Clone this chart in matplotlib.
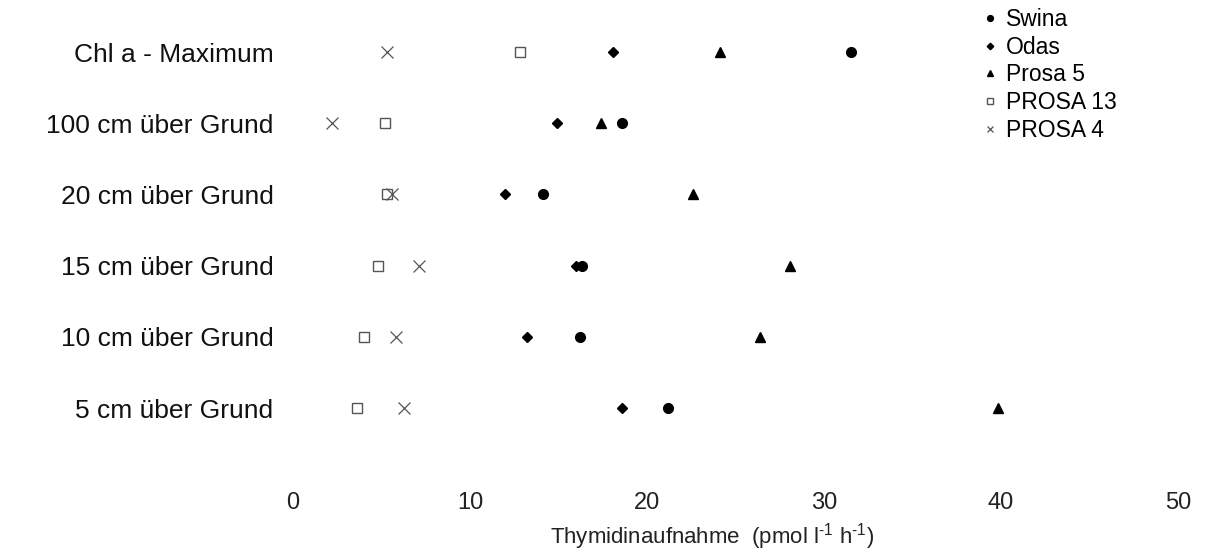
import matplotlib
matplotlib.use("Agg")
import matplotlib.pyplot as plt

plt.rcParams['font.family'] = ['Liberation Sans', 'DejaVu Sans']
plt.rcParams['mathtext.fontset'] = 'custom'
plt.rcParams['mathtext.rm'] = 'Liberation Sans'
plt.rcParams['mathtext.it'] = 'Liberation Sans:italic'

# depth levels, bottom to top
levels = ["5 cm über Grund", "10 cm über Grund", "15 cm über Grund",
          "20 cm über Grund", "100 cm über Grund", "Chl a - Maximum"]

# thymidine uptake per station (same order as levels)
swina = [21.2, 16.2, 16.3, 14.1, 18.6, 31.5]
odas = [18.6, 13.2, 16.0, 12.0, 14.9, 18.1]
prosa5 = [39.8, 26.4, 28.1, 22.6, 17.4, 24.1]
prosa13 = [3.6, 4.0, 4.8, 5.3, 5.2, 12.8]
prosa4 = [6.3, 5.8, 7.1, 5.6, 2.2, 5.3]

xticks = [0, 10, 20, 30, 40, 50]

ypos = list(range(1, len(levels) + 1))

fig = plt.figure(figsize=(12.07, 5.59), dpi=100)
ax = fig.add_axes([0.2427, 0.1324, 0.7334, 0.8318])

ax.plot(swina, ypos, 'o', color='black', markersize=7, linestyle='none', label='Swina')
ax.plot(odas, ypos, 'D', color='black', markersize=5.5, linestyle='none', label='Odas')
ax.plot(prosa5, ypos, '^', color='black', markersize=7.5, linestyle='none', label='Prosa 5')
ax.plot(prosa13, ypos, 's', markerfacecolor='white', markeredgecolor='#555555',
        markeredgewidth=1.0, markersize=7.5, linestyle='none', label='PROSA 13')
ax.plot(prosa4, ypos, 'x', color='#555555', markeredgewidth=0.9, markersize=8,
        linestyle='none', label='PROSA 4')

ax.set_xlim(0, 50)
ax.set_ylim(-0.08, 6.45)
ax.set_xticks(xticks)
ax.set_xticklabels([str(t) for t in xticks], fontsize=17, color='#222222')
ax.set_yticks(ypos)
ax.set_yticklabels(levels, fontsize=19, color='#111111')
ax.tick_params(axis='both', length=0)
ax.tick_params(axis='y', pad=14)
ax.tick_params(axis='x', pad=5)
for s in ax.spines.values():
    s.set_visible(False)

# axis title sits a bit left of the axes centre in the original
fig.text(0.59, 0.012, r'Thymidinaufnahme  (pmol l$^{\text{-}1}$ h$^{\text{-}1}$)',
         fontsize=16, color='#222222', ha='center', va='bottom')

fig.legend(loc='upper left', bbox_to_anchor=(0.802, 1.014), frameon=False,
           fontsize=16.5, markerscale=0.6, handlelength=0.5, handletextpad=0.45,
           labelspacing=0.2, borderpad=0.2)

fig.savefig("out.png", dpi=100, facecolor='white')
